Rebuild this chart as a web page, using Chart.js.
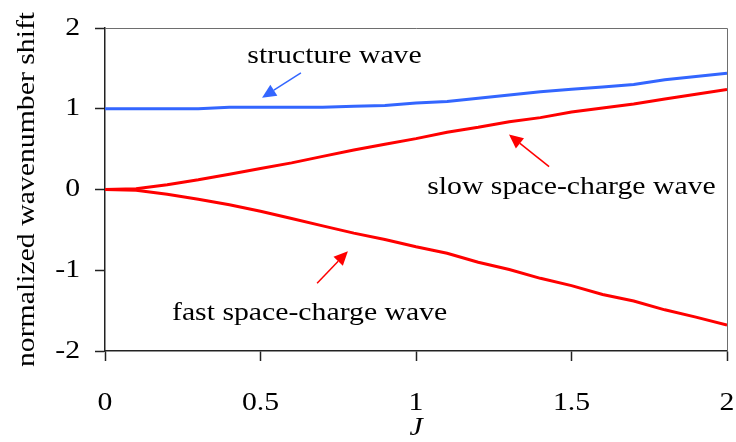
<!DOCTYPE html>
<html>
<head>
<meta charset="utf-8">
<script src="https://cdn.jsdelivr.net/npm/chart.js@4/dist/chart.umd.min.js"></script>
<style>
  html, body { margin: 0; padding: 0; background: #ffffff; }
  #wrap { width: 736px; height: 442px; }
</style>
</head>
<body>
<div id="wrap"><canvas id="c" width="736" height="442"></canvas></div>
<script>
// ---- data ----
const J = [0, 0.1, 0.2, 0.3, 0.4, 0.5, 0.6, 0.7, 0.8, 0.9, 1.0, 1.1, 1.2, 1.3, 1.4, 1.5, 1.6, 1.7, 1.8, 1.9, 2.0];
const structureWave = [1.0, 1.0, 1.0, 1.0, 1.02, 1.02, 1.02, 1.02, 1.03, 1.04, 1.07, 1.09, 1.13, 1.17, 1.21, 1.24, 1.27, 1.30, 1.36, 1.40, 1.44];
const slowWave = [0, 0.01, 0.06, 0.12, 0.19, 0.26, 0.33, 0.41, 0.49, 0.56, 0.63, 0.71, 0.77, 0.84, 0.89, 0.96, 1.01, 1.06, 1.12, 1.18, 1.24];
const fastWave = [0, -0.01, -0.06, -0.12, -0.19, -0.27, -0.36, -0.45, -0.54, -0.62, -0.71, -0.79, -0.90, -0.99, -1.10, -1.19, -1.30, -1.38, -1.49, -1.58, -1.68];
const xTicks = [0, 0.5, 1, 1.5, 2];
const yTicks = [-2, -1, 0, 1, 2];
const seriesNames = ['structure wave', 'slow space-charge wave', 'fast space-charge wave'];

// ---- annotation labels and arrows (in data units) ----
const labelText = ['structure wave', 'slow space-charge wave', 'fast space-charge wave'];
const labelAt = [[0.738, 1.572], [1.5, -0.053], [0.658, -1.621]];
const arrowFrom = [[0.63, 1.444], [1.428, 0.284], [0.682, -1.16]];
const arrowTo = [[0.505, 1.136], [1.299, 0.68], [0.781, -0.765]];

const BLUE = '#3366ff';
const RED = '#ff0000';
const colors = [BLUE, RED, RED];
const FONT = 'Liberation Serif';
const FS = 25;
const TEXT_STRETCH = 1.19; // the reference's serif text is drawn horizontally widened

// widen every text run horizontally around its anchor (text stays real text)
(function () {
  const P = CanvasRenderingContext2D.prototype;
  const orig = P.fillText;
  P.fillText = function (t, x, y, maxW) {
    this.save();
    this.translate(x, y);
    this.scale(TEXT_STRETCH, 1);
    if (maxW !== undefined) orig.call(this, t, 0, 0, maxW / TEXT_STRETCH);
    else orig.call(this, t, 0, 0);
    this.restore();
  };
})();

const toPts = (ys) => J.map((x, i) => ({ x: x, y: ys[i] }));

const frame = {
  id: 'frame',
  beforeDatasetsDraw(chart) {
    const { ctx, chartArea: a } = chart;
    ctx.save();
    ctx.strokeStyle = '#6e6e6e';
    ctx.lineWidth = 1;
    ctx.beginPath();
    ctx.moveTo(a.left, a.top + 0.5);
    ctx.lineTo(a.right + 0.5, a.top + 0.5);
    ctx.lineTo(a.right + 0.5, a.bottom);
    ctx.stroke();
    ctx.restore();
  }
};

const notes = {
  id: 'notes',
  afterDatasetsDraw(chart) {
    const { ctx } = chart;
    const xs = chart.scales.x, ys = chart.scales.y;
    ctx.save();
    ctx.font = FS + 'px "' + FONT + '"';
    ctx.fillStyle = '#000';
    ctx.textAlign = 'center';
    ctx.textBaseline = 'alphabetic';
    labelText.forEach((t, i) => {
      ctx.fillText(t, xs.getPixelForValue(labelAt[i][0]), ys.getPixelForValue(labelAt[i][1]));
    });
    arrowFrom.forEach((f, i) => {
      const x1 = xs.getPixelForValue(f[0]), y1 = ys.getPixelForValue(f[1]);
      const x2 = xs.getPixelForValue(arrowTo[i][0]), y2 = ys.getPixelForValue(arrowTo[i][1]);
      const ang = Math.atan2(y2 - y1, x2 - x1);
      const hl = 14, hw = 6.5;
      const bx = x2 - hl * Math.cos(ang), by = y2 - hl * Math.sin(ang);
      ctx.strokeStyle = colors[i];
      ctx.fillStyle = colors[i];
      ctx.lineWidth = 1.5;
      ctx.beginPath();
      ctx.moveTo(x1, y1);
      ctx.lineTo(bx, by);
      ctx.stroke();
      ctx.beginPath();
      ctx.moveTo(x2, y2);
      ctx.lineTo(bx + hw * Math.sin(ang), by - hw * Math.cos(ang));
      ctx.lineTo(bx - hw * Math.sin(ang), by + hw * Math.cos(ang));
      ctx.closePath();
      ctx.fill();
    });
    ctx.restore();
  }
};

new Chart(document.getElementById('c'), {
  type: 'line',
  data: {
    datasets: [structureWave, slowWave, fastWave].map((ys, i) => ({
      label: seriesNames[i],
      data: toPts(ys),
      borderColor: colors[i],
      backgroundColor: colors[i],
      borderWidth: 3,
      pointRadius: 0,
      tension: 0,
      fill: false
    }))
  },
  options: {
    responsive: false,
    devicePixelRatio: 1,
    animation: false,
    layout: { padding: { left: 0, top: 28, right: 9, bottom: 0 } },
    plugins: { legend: { display: false }, tooltip: { enabled: false } },
    scales: {
      x: {
        type: 'linear',
        min: 0, max: 2,
        afterBuildTicks: (s) => { s.ticks = xTicks.map(v => ({ value: v })); },
        afterFit: (s) => { s.height = 91; s.paddingLeft = 0; s.paddingRight = 0; },
        grid: { drawOnChartArea: false, drawTicks: true, tickLength: 10, color: '#222', tickWidth: 1.5 },
        border: { display: true, color: '#222', width: 1.5 },
        ticks: { color: '#000', padding: 27, maxRotation: 0, font: { family: FONT, size: FS },
                 callback: (v) => String(v) },
        title: { display: true, text: 'J', color: '#000', padding: { top: 0, bottom: 1 },
                 font: { family: FONT, size: FS, style: 'italic', lineHeight: 1 } }
      },
      y: {
        type: 'linear',
        min: -2, max: 2,
        afterBuildTicks: (s) => { s.ticks = yTicks.map(v => ({ value: v })); },
        afterFit: (s) => { s.width = 105; s.paddingTop = 0; s.paddingBottom = 0; },
        grid: { drawOnChartArea: false, drawTicks: true, tickLength: 10, color: '#222', tickWidth: 1.5 },
        border: { display: true, color: '#222', width: 1.5 },
        ticks: { color: '#000', padding: 15, font: { family: FONT, size: FS },
                 callback: (v) => String(v) },
        title: { display: true, text: 'normalized wavenumber shift', color: '#000', padding: { top: 12, bottom: 0 },
                 font: { family: FONT, size: FS } }
      }
    }
  },
  plugins: [frame, notes]
});
</script>
</body>
</html>
